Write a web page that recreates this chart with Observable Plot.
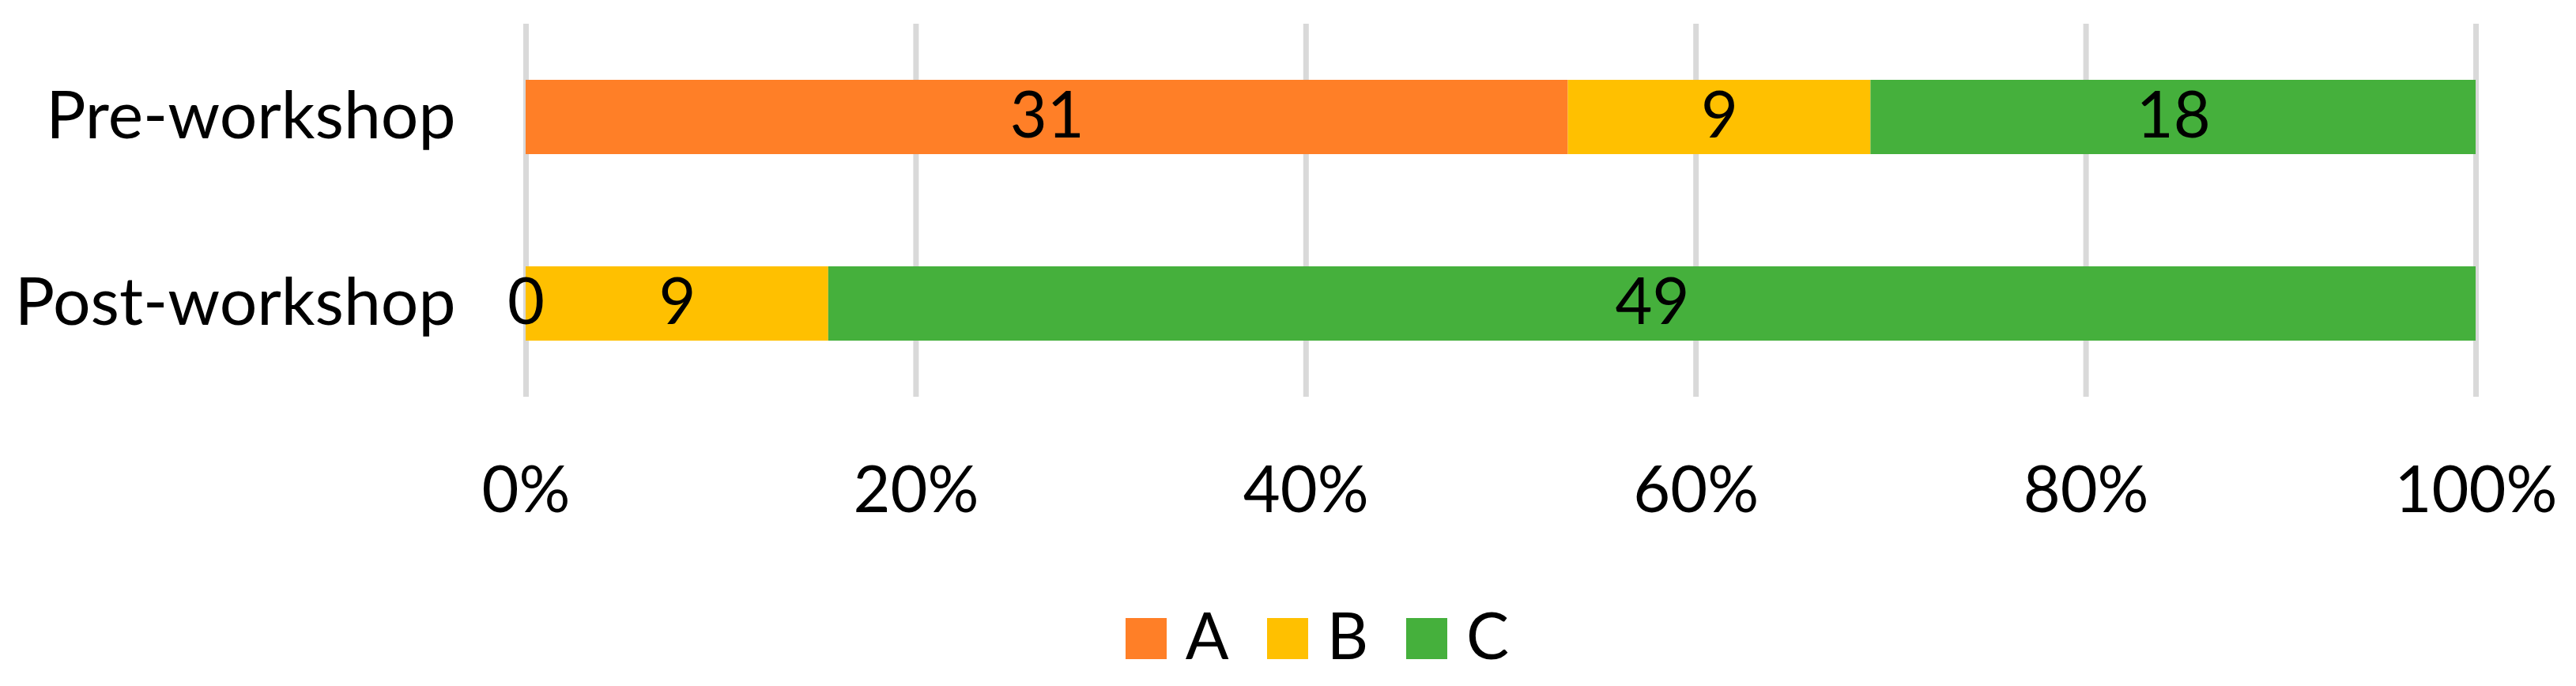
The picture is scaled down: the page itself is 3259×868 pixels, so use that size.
<!DOCTYPE html>
<html>
<head>
<meta charset="utf-8">
<script src="https://cdn.jsdelivr.net/npm/d3@7"></script>
<script src="https://cdn.jsdelivr.net/npm/@observablehq/plot@0.6"></script>
<style>
  html, body { margin: 0; padding: 0; background: #fff; }
  body { width: 3259px; font-family: Lato, "Open Sans", sans-serif; }
  #legend { display: flex; justify-content: center; align-items: flex-start; padding-top: 62px; padding-left: 74px; box-sizing: border-box; width: 3259px; font-size: 81px; line-height: 1; color: #000; }
  #legend .item { display: flex; align-items: flex-start; margin: 0 24px; }
  #legend .sw { width: 52px; height: 52px; margin-top: 20px; margin-right: 24px; }
</style>
</head>
<body>
<div id="chart"></div>
<div id="legend"></div>
<script>
const groups = ["Pre-workshop", "Post-workshop"];
const series = ["A", "B", "C"];
const colors = ["#FF7F27", "#FFC000", "#45B03C"];
const valuesA = [31, 0];
const valuesB = [9, 9];
const valuesC = [18, 49];
const xTicks = [0, 0.2, 0.4, 0.6, 0.8, 1];

const seriesValues = [valuesA, valuesB, valuesC];
const data = [];
groups.forEach((g, gi) => {
  series.forEach((s, si) => {
    data.push({group: g, series: s, value: seriesValues[si][gi]});
  });
});

const stackOpts = {x: "value", y: "group", z: "series", order: series, offset: "normalize"};

const chart = Plot.plot({
  width: 3259,
  height: 700,
  marginLeft: 665,
  marginRight: 127,
  marginTop: 30,
  marginBottom: 198,
  style: {fontFamily: "Lato, 'Open Sans', sans-serif", fontSize: "81px", color: "#000", background: "#fff"},
  x: {domain: [0, 1], label: null},
  y: {domain: groups, paddingInner: 0.6, paddingOuter: 0.3, label: null},
  color: {domain: series, range: colors},
  marks: [
    Plot.gridX(xTicks, {stroke: "#D9D9D9", strokeOpacity: 1, strokeWidth: 7}),
    Plot.barX(data, Plot.stackX({...stackOpts, fill: "series"})),
    Plot.text(data, Plot.stackX({...stackOpts, text: d => String(d.value), fill: "#000", fontSize: 81})),
    Plot.axisX({ticks: xTicks, tickFormat: d3.format(".0%"), tickSize: 0, tickPadding: 88, fontSize: 81, label: null}),
    Plot.axisY({tickSize: 0, tickPadding: 89, fontSize: 84, label: null})
  ]
});
document.getElementById("chart").appendChild(chart);

const legend = document.getElementById("legend");
series.forEach((s, i) => {
  const item = document.createElement("div");
  item.className = "item";
  const sw = document.createElement("div");
  sw.className = "sw";
  sw.style.background = colors[i];
  const lab = document.createElement("span");
  lab.textContent = s;
  item.appendChild(sw);
  item.appendChild(lab);
  legend.appendChild(item);
});
</script>
</body>
</html>
